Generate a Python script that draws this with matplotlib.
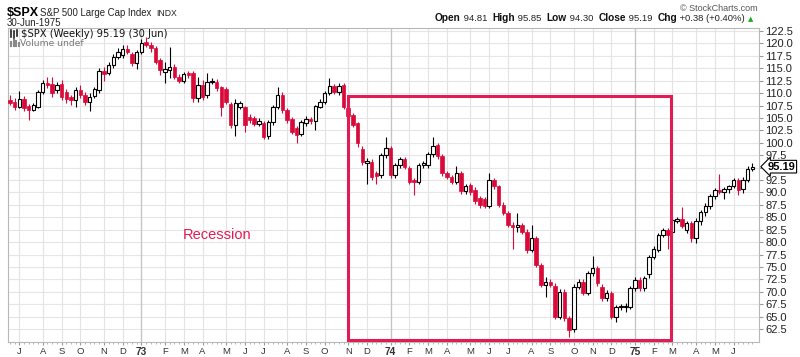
import numpy as np
import pandas as pd
import matplotlib
matplotlib.use('Agg')
import matplotlib.pyplot as plt
from matplotlib.patches import Rectangle
from matplotlib.lines import Line2D
from matplotlib.offsetbox import TextArea, HPacker, AnnotationBbox

plt.rcParams['font.family'] = ['Liberation Sans', 'DejaVu Sans']

# weekly bars, each dated by the Monday of its week
first_week = '1972-06-19'
last_week = '1975-06-30'

opens = [
    108.6, 108.3, 107.1, 108.8, 107.4, 106.6, 107.3, 110.3, 112.0, 111.8,
    110.6, 111.8, 110.3, 109.3, 108.6, 110.6, 109.6, 108.3, 109.5, 110.6,
    114.4, 114.0, 115.6, 117.3, 117.7, 118.9, 117.8, 116.0, 118.3, 120.2,
    119.7, 119.0, 116.6, 114.3, 114.6, 115.2, 113.3, 112.5, 114.0, 114.0,
    109.0, 111.6, 109.6, 112.2, 112.3, 111.2, 110.8, 107.8, 103.6, 107.3,
    107.1, 105.2, 104.9, 103.8, 103.9, 101.4, 104.1, 107.2, 109.6, 106.6,
    104.7, 102.9, 101.8, 103.9, 104.7, 104.4, 107.3, 108.3, 110.0, 111.4,
    110.3, 111.6, 106.9, 105.6, 103.9, 98.7, 95.9, 96.2, 93.85, 93.5,
    97.5, 98.9, 93.5, 95.5, 96.7, 94.9, 92.5, 92.2, 95.5, 95.5,
    97.7, 99.6, 97.3, 94.0, 93.2, 92.2, 93.9, 90.2, 91.4, 90.5,
    88.8, 88.6, 87.3, 92.5, 91.2, 87.5, 85.9, 83.4, 83.0, 83.4,
    82.1, 78.4, 80.8, 75.4, 71.4, 72.0, 71.2, 65.0, 70.0, 64.7,
    62.6, 71.0, 72.0, 69.8, 73.7, 74.7, 71.0, 68.7, 69.7, 65.0,
    66.9, 67.0, 67.0, 70.7, 72.4, 70.7, 73.5, 77.0, 78.4, 81.4,
    82.4, 82.1, 84.3, 84.6, 82.4, 83.8, 80.8, 84.3, 86.1, 87.2,
    89.2, 90.4, 90.1, 90.6, 91.2, 92.5, 90.6, 92.6, 94.81,
]
highs = [
    109.6, 109.0, 110.4, 109.5, 107.8, 108.0, 110.6, 112.6, 113.3, 113.3,
    112.3, 112.6, 110.8, 109.6, 111.3, 111.6, 110.2, 110.0, 111.3, 115.0,
    115.3, 116.3, 117.8, 119.0, 119.6, 119.6, 118.3, 118.6, 120.8, 121.3,
    120.3, 119.5, 117.0, 116.3, 119.2, 115.8, 113.8, 114.3, 114.5, 114.5,
    113.3, 112.6, 114.0, 113.0, 112.8, 111.5, 111.2, 108.2, 108.9, 108.5,
    107.5, 105.8, 105.3, 104.9, 104.3, 104.6, 107.6, 111.2, 110.2, 107.0,
    105.2, 103.3, 104.6, 105.3, 105.2, 107.6, 108.8, 110.5, 113.0, 111.9,
    112.0, 112.1, 107.4, 106.0, 104.2, 99.3, 97.0, 96.8, 94.3, 97.9,
    101.2, 99.4, 96.0, 97.2, 97.2, 95.4, 93.0, 95.9, 96.4, 98.1,
    101.1, 100.0, 97.7, 94.4, 93.6, 95.4, 94.3, 91.8, 92.0, 91.0,
    89.3, 89.1, 93.85, 93.0, 91.6, 88.0, 86.3, 84.0, 85.8, 83.9,
    82.6, 83.4, 81.3, 75.9, 73.0, 72.5, 71.7, 70.5, 70.5, 65.2,
    71.5, 72.5, 72.5, 74.2, 77.2, 75.2, 71.5, 70.3, 70.2, 67.4,
    67.6, 67.8, 71.2, 73.0, 72.9, 73.2, 77.5, 79.2, 81.9, 82.9,
    82.9, 85.0, 85.0, 87.0, 84.3, 84.3, 84.9, 86.5, 87.8, 89.7,
    90.9, 93.7, 91.0, 91.6, 93.0, 93.0, 93.1, 95.3, 95.85,
]
lows = [
    107.6, 106.6, 106.9, 106.3, 104.5, 106.3, 107.0, 109.8, 111.0, 109.3,
    110.0, 108.6, 108.0, 107.6, 107.3, 109.0, 107.6, 106.3, 109.0, 110.0,
    112.5, 113.6, 115.0, 116.8, 117.0, 117.8, 115.5, 114.8, 117.8, 119.2,
    118.3, 115.8, 113.6, 112.1, 113.0, 112.8, 112.0, 112.0, 113.0, 108.2,
    108.3, 108.6, 109.0, 111.8, 110.5, 105.4, 107.8, 103.0, 101.4, 106.8,
    102.2, 104.0, 103.3, 103.3, 100.7, 100.8, 103.5, 106.8, 106.0, 104.0,
    101.8, 99.9, 101.3, 103.3, 103.8, 102.6, 106.9, 107.8, 109.6, 109.8,
    109.6, 106.7, 104.9, 103.1, 99.2, 95.6, 91.8, 92.6, 91.8, 93.0,
    97.0, 92.9, 93.0, 95.0, 94.7, 91.8, 89.5, 91.8, 95.0, 95.0,
    97.2, 96.8, 93.4, 92.7, 91.7, 91.7, 89.7, 89.7, 89.5, 87.7,
    86.9, 86.8, 86.9, 90.7, 87.0, 85.4, 83.0, 78.7, 82.1, 81.6,
    77.8, 78.0, 74.9, 70.9, 69.0, 70.9, 64.5, 64.5, 64.2, 61.0,
    62.0, 70.5, 69.3, 69.3, 73.2, 71.2, 68.2, 68.2, 64.5, 64.0,
    66.3, 66.0, 66.5, 70.2, 70.2, 70.2, 72.8, 76.6, 78.0, 81.0,
    78.7, 81.5, 83.8, 82.8, 81.9, 80.0, 79.9, 83.5, 85.3, 86.6,
    88.6, 89.6, 88.7, 89.8, 90.8, 89.5, 89.9, 92.2, 94.30,
]
closes = [
    108.1, 107.1, 108.8, 107.0, 106.6, 107.6, 110.3, 112.0, 111.6, 110.0,
    111.6, 109.3, 108.8, 108.6, 110.6, 109.7, 108.3, 109.3, 110.8, 114.4,
    113.8, 115.6, 117.3, 118.3, 118.9, 118.2, 116.0, 118.3, 120.0, 119.7,
    119.0, 116.3, 114.6, 114.8, 115.2, 113.3, 112.5, 113.8, 113.6, 109.0,
    111.6, 109.3, 112.3, 112.5, 111.0, 107.3, 108.3, 103.6, 108.1, 108.1,
    103.6, 104.6, 103.8, 104.4, 101.2, 104.1, 107.2, 109.6, 106.6, 104.6,
    102.2, 101.5, 104.2, 104.7, 104.4, 107.3, 108.3, 110.0, 111.4, 110.3,
    111.4, 107.3, 105.4, 103.6, 99.9, 96.2, 96.4, 93.2, 93.3, 97.5,
    98.9, 93.5, 95.5, 96.7, 95.2, 92.2, 92.2, 95.5, 95.9, 97.7,
    99.3, 97.3, 94.0, 93.2, 92.2, 93.9, 90.2, 91.3, 90.0, 88.2,
    87.4, 87.3, 92.5, 91.2, 87.5, 85.9, 83.5, 83.0, 83.4, 82.1,
    78.4, 80.8, 75.4, 71.4, 72.0, 71.4, 65.0, 70.0, 64.7, 62.3,
    71.0, 72.0, 69.8, 73.7, 74.7, 71.7, 68.7, 69.8, 65.0, 66.9,
    67.1, 67.2, 70.7, 72.4, 70.7, 72.7, 77.0, 78.6, 81.4, 82.4,
    81.4, 84.4, 84.6, 83.2, 83.8, 80.8, 84.3, 86.1, 87.3, 89.2,
    90.4, 90.1, 90.6, 91.2, 92.5, 90.5, 92.6, 94.8, 95.19,
]

month_labels = ['J', 'A', 'S', 'O', 'N', 'D', '73', 'F', 'M', 'A', 'M', 'J',
                'J', 'A', 'S', 'O', 'N', 'D', '74', 'F', 'M', 'A', 'M', 'J',
                'J', 'A', 'S', 'O', 'N', 'D', '75', 'F', 'M', 'A', 'M', 'J']
price_ticks = np.arange(62.5, 123.0, 2.5)

recession_start = '1973-11'
recession_end = '1975-03'

last_close = 95.19

RED = '#d90a3a'
PINK = '#e31b54'
W, H = 800, 357


def fig_px(xp, yp):
    """Pixel position (from top left) to figure fraction."""
    return xp / W, 1 - yp / H


dates = pd.date_range(first_week, last_week, freq='W-MON')
x = np.arange(len(dates))
o = np.array(opens)
h = np.array(highs)
l = np.array(lows)
c = np.array(closes)

fig = plt.figure(figsize=(W / 100, H / 100), dpi=100)
ax = fig.add_axes([7.5 / W, 1 - 342 / H, 751 / W, 314 / H])

# grid
month_pos = x[dates.day <= 7]
year_pos = x[(dates.day <= 7) & (dates.month == 1)]
for v in price_ticks:
    ax.axhline(v, color='#e6e6e6', lw=0.8, zorder=0)
for p in month_pos:
    ax.axvline(p, color='#e3e3e3', lw=0.8, zorder=0)
for p in year_pos:
    ax.axvline(p, color='#c4c4c4', lw=0.9, zorder=0)

# candles
up = c >= o
body_low = np.minimum(o, c)
body_h = np.maximum(np.abs(c - o), 0.18)
ax.vlines(x[up], l[up], h[up], color='black', lw=0.8, zorder=3)
ax.vlines(x[~up], l[~up], h[~up], color=RED, lw=0.8, zorder=3)
ax.bar(x[up], body_h[up], bottom=body_low[up], width=0.74,
       facecolor='white', edgecolor='black', linewidth=0.8, zorder=4)
ax.bar(x[~up], body_h[~up], bottom=body_low[~up], width=0.74,
       facecolor=RED, edgecolor=RED, linewidth=0.5, zorder=4)

# recession box
periods = dates.to_period('M')
rx0 = x[periods == pd.Period(recession_start, 'M')][0]
rx1 = x[periods == pd.Period(recession_end, 'M')][0] - 0.3
ax.add_patch(Rectangle((rx0, 60.4), rx1 - rx0, 109.4 - 60.4, fill=False,
                       edgecolor=PINK, linewidth=2.2, zorder=6))
ax.text(44, 81.4, 'Recession', color=PINK, fontsize=10.5,
        ha='center', va='center')

ax.set_xlim(-0.5, 159.3)
ax.set_ylim(59.9, 123.1)

# axes
ax.yaxis.tick_right()
ax.set_yticks(price_ticks)
ax.set_yticklabels(['' if abs(v - 95.0) < 0.01 else f'{v:.1f}' for v in price_ticks])
ax.tick_params(axis='y', length=3, color='#999999', labelsize=8,
               labelcolor='#222222', pad=2)
ax.set_xticks(month_pos)
ax.set_xticklabels(month_labels)
ax.set_xticks(x, minor=True)
ax.tick_params(axis='x', which='major', length=2, color='#999999',
               labelsize=6.8, labelcolor='#333333', pad=1.5)
ax.tick_params(axis='x', which='minor', length=1.5, color='#aaaaaa')
for lbl in ax.get_xticklabels():
    if lbl.get_text().isdigit():
        lbl.set_fontweight('bold')
        lbl.set_fontsize(7.3)
for s in ax.spines.values():
    s.set_color('#b8b8b8')
    s.set_linewidth(0.8)

# last price tag
ax.text(1.012, last_close, f'{last_close:.2f}', transform=ax.get_yaxis_transform(),
        fontsize=8, fontweight='bold', va='center', ha='left', zorder=7,
        bbox=dict(boxstyle='larrow,pad=0.12', fc='white', ec='black', lw=0.8))

# header
fig.text(*fig_px(7, 16), r'\$SPX', fontsize=9, fontweight='bold', va='baseline')
fig.text(*fig_px(40, 16), 'S&P 500 Large Cap Index', fontsize=6.9, va='baseline',
         color='#222222')
fig.text(*fig_px(156, 16), 'INDX', fontsize=6.2, va='baseline', color='#222222')
fig.text(*fig_px(7, 26), '30-Jun-1975', fontsize=7, va='baseline', color='#222222')
fig.text(*fig_px(758, 11), '© StockCharts.com', fontsize=6.5, va='baseline',
         ha='right', color='#555555')

bold = dict(fontsize=7.3, fontweight='bold', color='#111111')
norm = dict(fontsize=6.8, color='#222222')
pieces = [('Open', bold), (' 94.81  ', norm), ('High', bold), (' 95.85  ', norm),
          ('Low', bold), (' 94.30  ', norm), ('Close', bold), (' 95.19  ', norm),
          ('Chg', bold), (' +0.38 (+0.40%) ', norm),
          ('▲', dict(fontsize=5, color='#22aa22', family='DejaVu Sans'))]
pack = HPacker(children=[TextArea(t, textprops=p) for t, p in pieces],
               align='baseline', pad=0, sep=0)
fig.add_artist(AnnotationBbox(pack, fig_px(753, 23), xycoords='figure fraction',
                              box_alignment=(1, 0), frameon=False, pad=0))

# legend inside the chart
fig.text(*fig_px(21, 37), r'\$SPX (Weekly) 95.19 (30 Jun)', fontsize=7.2,
         family='DejaVu Sans', va='baseline', color='#111111')
fig.text(*fig_px(20, 46), 'Volume undef', fontsize=6.6, family='DejaVu Sans',
         va='baseline', color='#777777')
for xi, y0, y1 in [(11, 30, 37), (14, 31, 38), (17, 30, 36)]:
    fig.add_artist(Line2D([xi / W, xi / W], [1 - y1 / H, 1 - y0 / H],
                          transform=fig.transFigure, color='#222222', lw=1.2))
for xi, y0 in [(11, 42), (13.5, 40), (16, 41), (18.5, 43)]:
    fig.add_artist(Line2D([xi / W, xi / W], [1 - 46 / H, 1 - y0 / H],
                          transform=fig.transFigure, color='#888888', lw=1.5))

fig.savefig('out.png', dpi=100)
